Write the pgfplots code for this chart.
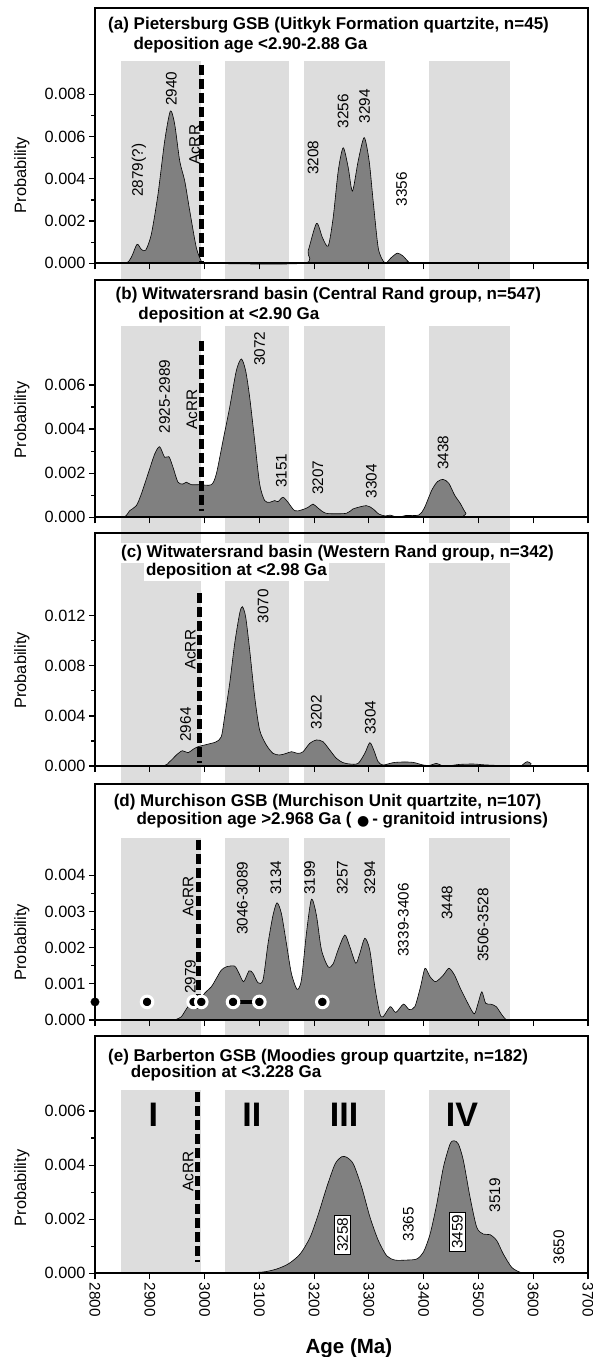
\documentclass[border=0pt]{standalone}
\usepackage{fontspec}
\setmainfont{Liberation Sans}
\newfontfamily\dejavu{DejaVu Sans}
\usepackage{pgfplots}
\pgfplotsset{compat=1.18}
\definecolor{bandgray}{RGB}{221,221,221}
\definecolor{fillgray}{RGB}{128,128,128}
\newcommand\pk{\fontsize{15.3}{17}\selectfont}
\newcommand\ttl{\fontsize{17}{20}\selectfont\bfseries}
\newcommand\bands[2]{%
  \fill[bandgray] (axis cs:2848,#1) rectangle (axis cs:2994,#2);
  \fill[bandgray] (axis cs:3037,#1) rectangle (axis cs:3155,#2);
  \fill[bandgray] (axis cs:3181,#1) rectangle (axis cs:3329,#2);
  \fill[bandgray] (axis cs:3409,#1) rectangle (axis cs:3557,#2);}
\tikzset{peak/.style={rotate=90, anchor=west, inner sep=0pt, font=\pk}}
\pgfplotsset{
 panel/.style={
  scale only axis, width=493pt,
  xmin=2800, xmax=3700, ymin=0,
  clip=false, axis on top,
  axis line style={line width=2.2pt},
  tick style={black, line width=1.2pt},
  tick align=outside,
  xtick={2800,2900,...,3700}, xtick pos=bottom, ytick pos=left,
  major tick length=6pt, minor tick length=3.5pt,
  scaled y ticks=false,
  yticklabel style={font=\fontsize{16.3}{18}\selectfont, /pgf/number format/.cd, fixed, fixed zerofill, precision=3, assume math mode=true},
  xticklabels={},
  ylabel={Probability},
  ylabel style={font=\fontsize{16.4}{18}\selectfont, anchor=center},
 },
 curve/.style={fill=fillgray, draw=black, line width=0.6pt, smooth, tension=0.45},
 acrr/.style={black, line width=5pt, dash pattern=on 10pt off 4pt, forget plot},
}
\begin{document}
\begin{tikzpicture}
\useasboundingbox (0pt,0pt) rectangle (593pt,-1357pt);
% ---------------- (a)
\begin{axis}[panel, at={(95pt,-263.3pt)}, anchor=south west, height=255pt, ymax=0.01207,
  ytick={0,0.002,0.004,0.006,0.008}, minor ytick={0.001,0.003,0.005,0.007},
  ylabel style={at={(axis description cs:-0.1485,0.346)}}]
\bands{-0.00079}{0.00958}
\addplot[curve] coordinates {(2800,0) (2854,0) (2866,0.00027) (2876.7,0.0009) (2884.6,0.00066) (2892.5,0.00062) (2902.8,0.00137) (2915,0.00327) (2927.2,0.00579) (2937.6,0.00721) (2945.5,0.00658) (2954.7,0.00484) (2963.8,0.0039) (2973,0.00248) (2985,0.00074) (2994.2,0.0001) (3000,0) (3179.8,0) (3189,0.00058) (3204.4,0.00189) (3215.3,0.00121) (3225.7,0.00082) (3234.8,0.00216) (3244,0.00437) (3253.1,0.00547) (3262.3,0.00453) (3270,0.00342) (3280.4,0.00484) (3291.4,0.00595) (3300.5,0.00484) (3307.8,0.00295) (3317,0.00074) (3326,0.00011) (3332,0.00002) (3340,0.00025) (3352,0.00048) (3362,0.00035) (3372,0.00008) (3380,0) (3700,0)} \closedcycle;
\addplot[acrr] coordinates {(2995,0.00939) (2995,0)};
\node[peak] at (axis cs:2880.3,0.00315) {2879(?)};
\node[peak] at (axis cs:2939.3,0.00745) {2940};
\node[peak] at (axis cs:2982,0.00465) {AcRR};
\node[peak] at (axis cs:3198,0.00418) {3208};
\node[peak] at (axis cs:3253,0.00639) {3256};
\node[peak] at (axis cs:3292,0.00663) {3294};
\node[peak] at (axis cs:3359.6,0.00268) {3356};
\node[anchor=west, inner sep=0pt, font=\ttl] at (axis description cs:0.0264,0.9345) {(a) Pietersburg GSB (Uitkyk Formation quartzite, n=45)};
\node[anchor=west, inner sep=0pt, font=\ttl] at (axis description cs:0.0777,0.856) {deposition age <2.90-2.88 Ga};
\end{axis}
% ---------------- (b)
\begin{axis}[panel, at={(95pt,-517.3pt)}, anchor=south west, height=237.3pt, ymax=0.01076,
  ytick={0,0.002,0.004,0.006}, minor ytick={0.001,0.003,0.005},
  ylabel style={at={(axis description cs:-0.1485,0.41)}}]
\bands{-0.000698}{0.00868}
\addplot[curve] coordinates {(2800,0) (2851,0) (2863.3,0.0003) (2875.5,0.00053) (2884.6,0.00106) (2896.8,0.00197) (2909,0.00287) (2918,0.0032) (2927.2,0.00272) (2935,0.00275) (2942.4,0.00227) (2951.5,0.00159) (2960.6,0.00151) (2966.7,0.00159) (2975.8,0.00148) (2991,0.00148) (3012.4,0.00148) (3021.5,0.00197) (3033.7,0.00348) (3045.9,0.00499) (3058,0.00665) (3067.2,0.00718) (3075,0.00665) (3082.4,0.00544) (3091.5,0.00348) (3100.6,0.00151) (3109.7,0.00076) (3118.9,0.00068) (3128,0.00076) (3134,0.00071) (3143.2,0.00091) (3152.3,0.00068) (3164.5,0.0003) (3176.7,0.00033) (3188.9,0.00045) (3198,0.0006) (3207.2,0.00042) (3222.4,0.00018) (3258.9,0.00018) (3271,0.00038) (3295.4,0.00053) (3307.6,0.00038) (3318,0.00015) (3330,0.00006) (3338.8,0.0001) (3352.7,0) (3366.6,0.00008) (3390.8,0.0001) (3401,0.00041) (3415,0.00124) (3425.3,0.00162) (3435.7,0.00172) (3446,0.00154) (3456.4,0.00101) (3466.8,0.00063) (3477.2,0.00018) (3487.6,0) (3700,0)} \closedcycle;
\addplot[acrr] coordinates {(2994,0.0080) (2994,0.0003)};
\node[peak] at (axis cs:2927,0.00381) {2925-2989};
\node[peak] at (axis cs:2977,0.00396) {AcRR};
\node[peak] at (axis cs:3100.6,0.00686) {3072};
\node[peak] at (axis cs:3140,0.00132) {3151};
\node[peak] at (axis cs:3207,0.00101) {3207};
\node[peak] at (axis cs:3304.5,0.00086) {3304};
\node[peak] at (axis cs:3435.7,0.00215) {3438};
\node[anchor=west, inner sep=0pt, font=\ttl] at (axis description cs:0.0416,0.937) {(b) Witwatersrand basin (Central Rand group, n=547)};
\node[anchor=west, inner sep=0pt, font=\ttl] at (axis description cs:0.0878,0.8525) {deposition at <2.90 Ga};
\end{axis}
% ---------------- (c)
\begin{axis}[panel, at={(95pt,-766pt)}, anchor=south west, height=233.3pt, ymax=0.018627,
  ytick={0,0.004,0.008,0.012}, minor ytick={0.002,0.006,0.010},
  ylabel style={at={(axis description cs:-0.1485,0.41)}}]
\bands{-0.00146}{0.018627}
\addplot[curve] coordinates {(2800,0) (2918,0) (2936.3,0.00035) (2948.5,0.00088) (2959.4,0.00122) (2969.8,0.00106) (2978.9,0.00133) (2988,0.00154) (3000.2,0.00168) (3012.4,0.00181) (3021.5,0.00194) (3030.6,0.00234) (3036.7,0.00394) (3045.9,0.0066) (3055,0.00979) (3064.1,0.01219) (3069,0.01272) (3075,0.01192) (3082.4,0.00926) (3091.5,0.00553) (3100.6,0.00287) (3112.8,0.00168) (3125,0.00101) (3137.2,0.00088) (3149.4,0.00101) (3158.5,0.00114) (3170.7,0.00101) (3179.8,0.00114) (3192,0.00181) (3204.2,0.00208) (3216.3,0.00194) (3228.5,0.00128) (3240.7,0.00061) (3252.9,0.00027) (3265,0.00016) (3280.3,0.00021) (3292.5,0.00101) (3301.6,0.00186) (3308.9,0.00128) (3316.8,0.00035) (3326,0.00008) (3344.2,0.00027) (3362.5,0.00032) (3380.8,0.00029) (3399,0.00008) (3411.2,0.00005) (3423.4,0.00021) (3432.5,0.00005) (3447.7,0.00003) (3466,0.00013) (3490.4,0.00016) (3508.6,0.0001) (3533,0.00005) (3569,0.00002) (3578,0) (3582,0.00015) (3589,0.00035) (3596,0.0002) (3603,0) (3700,0)} \closedcycle;
\addplot[acrr] coordinates {(2991,0.01381) (2991,0.00024)};
\node[peak] at (axis cs:2965.5,0.00194) {2964};
\node[peak] at (axis cs:2974,0.00766) {AcRR};
\node[peak] at (axis cs:3106.7,0.01139) {3070};
\node[peak] at (axis cs:3204,0.00293) {3202};
\node[peak] at (axis cs:3302.6,0.00248) {3304};
\node[anchor=west, inner sep=2pt, fill=white, font=\ttl] at (axis description cs:0.0487,0.914) {(c) Witwatersrand basin (Western Rand group, n=342)};
\node[anchor=west, inner sep=2pt, fill=white, font=\ttl] at (axis description cs:0.099,0.837) {deposition at <2.98 Ga};
\end{axis}
% ---------------- (d)
\begin{axis}[panel, at={(95pt,-1020pt)}, anchor=south west, height=235.7pt, ymax=0.006516,
  ytick={0,0.001,0.002,0.003,0.004}, minor ytick={0.0005,0.0015,0.0025,0.0035},
  ylabel style={at={(axis description cs:-0.1485,0.33)}}]
\bands{-0.000442}{0.00502}
\addplot[curve] coordinates {(2800,0) (2940,0) (2948.5,0.00002) (2957.6,0.00009) (2963.7,0.00023) (2969.8,0.00037) (2978.9,0.00046) (2988,0.00046) (3000.2,0.00074) (3012.4,0.00092) (3021.5,0.00115) (3030.6,0.00138) (3039.8,0.00147) (3055,0.00149) (3062.9,0.00129) (3071.4,0.00106) (3081.2,0.00136) (3088.5,0.00129) (3097.6,0.00103) (3106.7,0.00111) (3115.9,0.00212) (3125,0.0029) (3132.3,0.00324) (3140.2,0.00295) (3149.4,0.00212) (3158.5,0.00129) (3168.9,0.00085) (3176.8,0.00111) (3186,0.0024) (3195.1,0.00334) (3204.2,0.0029) (3213.4,0.00194) (3225.6,0.00147) (3234.7,0.00155) (3243.8,0.00194) (3256,0.00235) (3265.1,0.00203) (3276.1,0.00157) (3283.4,0.00184) (3292.5,0.00226) (3301.6,0.00194) (3310.8,0.00092) (3319.9,0.00018) (3326,0.00009) (3339,0.00037) (3349.2,0.00021) (3363.1,0.00044) (3373.5,0.00029) (3383.9,0.00037) (3394.3,0.00092) (3402.5,0.00143) (3411.5,0.0012) (3421.9,0.00106) (3435.8,0.00124) (3446.2,0.00143) (3456.4,0.00124) (3466.8,0.00088) (3480.7,0.00046) (3492.4,0.00017) (3499.3,0.00046) (3506.2,0.00078) (3513.2,0.00046) (3522.1,0.00044) (3532.5,0.00037) (3542.9,0.00014) (3549.8,0.00002) (3555,0) (3700,0)} \closedcycle;
\addplot[acrr] coordinates {(2989,0.00498) (2989,0.00033)};
\addplot[black, line width=4.5pt, forget plot] coordinates {(3052,0.0005) (3100,0.0005)};
\addplot[only marks, mark=*, mark size=5.8pt, mark options={fill=black, draw=white, line width=3pt}, forget plot] coordinates {(2895,0.0005) (2980,0.0005) (2994,0.0005) (3052,0.0005) (3100,0.0005) (3215,0.0005)};
\addplot[only marks, mark=*, mark size=4.3pt, mark options={fill=black, draw=black, line width=0.1pt}, forget plot] coordinates {(2800,0.0005)};
\node[peak] at (axis cs:2974,0.00072) {2979};
\node[peak] at (axis cs:2970,0.00286) {AcRR};
\node[peak] at (axis cs:3069,0.00235) {3046-3089};
\node[peak] at (axis cs:3130,0.00346) {3134};
\node[peak] at (axis cs:3192,0.00346) {3199};
\node[peak] at (axis cs:3251.6,0.00346) {3257};
\node[peak] at (axis cs:3301.6,0.00346) {3294};
\node[peak] at (axis cs:3363,0.00175) {3339-3406};
\node[peak] at (axis cs:3442.7,0.00276) {3448};
\node[peak] at (axis cs:3508.4,0.00161) {3506-3528};
\node[anchor=west, inner sep=0pt, font=\ttl] at (axis description cs:0.0377,0.926) {(d) Murchison GSB (Murchison Unit quartzite, n=107)};
\node[anchor=west, inner sep=0pt, font=\ttl] at (axis description cs:0.084,0.8486) {deposition age >2.968 Ga (\,\,{\dejavu\fontsize{14}{14}\selectfont\raisebox{-0.2ex}{●}}\,- granitoid intrusions)};
\end{axis}
% ---------------- (e)
\begin{axis}[panel, at={(95pt,-1273.3pt)}, anchor=south west, height=237.3pt, ymax=0.008773,
  ytick={0,0.002,0.004,0.006}, minor ytick={0.001,0.003,0.005},
  xticklabels={2800,2900,3000,3100,3200,3300,3400,3500,3600,3700},
  xticklabel style={rotate=-90, anchor=west, font=\fontsize{15.3}{17}\selectfont},
  xlabel={Age (Ma)},
  xlabel style={font=\fontsize{20.5}{22}\selectfont\bfseries, anchor=center, at={(axis description cs:0.515,-0.315)}},
  ylabel style={at={(axis description cs:-0.1485,0.36)}}]
\bands{0}{0.00678}
\addplot[curve] coordinates {(2800,0) (3050,0) (3070.8,0.00002) (3107.3,0.00005) (3131.7,0.00016) (3153,0.00035) (3174.3,0.00071) (3192.6,0.00133) (3207.8,0.00219) (3223,0.00318) (3238.2,0.00404) (3250.4,0.00431) (3259.5,0.00429) (3271.7,0.00404) (3286.9,0.00318) (3302.1,0.00207) (3317.3,0.00121) (3332.5,0.00065) (3347.7,0.00049) (3369,0.00049) (3387.3,0.00053) (3399.5,0.00078) (3411.7,0.00145) (3423.9,0.00256) (3436,0.00392) (3448.2,0.00478) (3455.5,0.0049) (3463.4,0.00478) (3472.5,0.00417) (3484.7,0.00281) (3496.9,0.0017) (3509,0.00145) (3521.2,0.00143) (3533.4,0.00121) (3545.5,0.00071) (3560.8,0.00022) (3576,0.00004) (3590,0) (3625,0) (3628,0.00003) (3665,0.00003) (3668,0) (3700,0)} \closedcycle;
\addplot[acrr] coordinates {(2988,0.00671) (2988,0.00043)};
\node[font=\fontsize{34}{36}\selectfont\bfseries] at (axis cs:2906.6,0.00585) {I};
\node[font=\fontsize{34}{36}\selectfont\bfseries] at (axis cs:3086.5,0.00585) {II};
\node[font=\fontsize{34}{36}\selectfont\bfseries] at (axis cs:3254.6,0.00585) {III};
\node[font=\fontsize{34}{36}\selectfont\bfseries] at (axis cs:3470,0.00585) {IV};
\node[rotate=90, inner sep=0pt, font=\pk] at (axis cs:2970,0.00376) {AcRR};
\node[rotate=90, draw=black, line width=0.6pt, fill=white, inner sep=2.5pt, font=\pk] at (axis cs:3252,0.00142) {3258};
\node[rotate=90, inner sep=0pt, font=\pk] at (axis cs:3372,0.00182) {3365};
\node[rotate=90, draw=black, line width=0.6pt, fill=white, inner sep=2.5pt, font=\pk] at (axis cs:3461.5,0.00153) {3459};
\node[rotate=90, inner sep=0pt, font=\pk] at (axis cs:3530,0.00289) {3519};
\node[rotate=90, inner sep=0pt, font=\pk] at (axis cs:3646.7,0.00097) {3650};
\node[anchor=west, inner sep=0pt, font=\ttl] at (axis description cs:0.0264,0.913) {(e) Barberton GSB (Moodies group quartzite, n=182)};
\node[anchor=west, inner sep=0pt, font=\ttl] at (axis description cs:0.0724,0.843) {deposition at <3.228 Ga};
\end{axis}
\end{tikzpicture}
\end{document}
